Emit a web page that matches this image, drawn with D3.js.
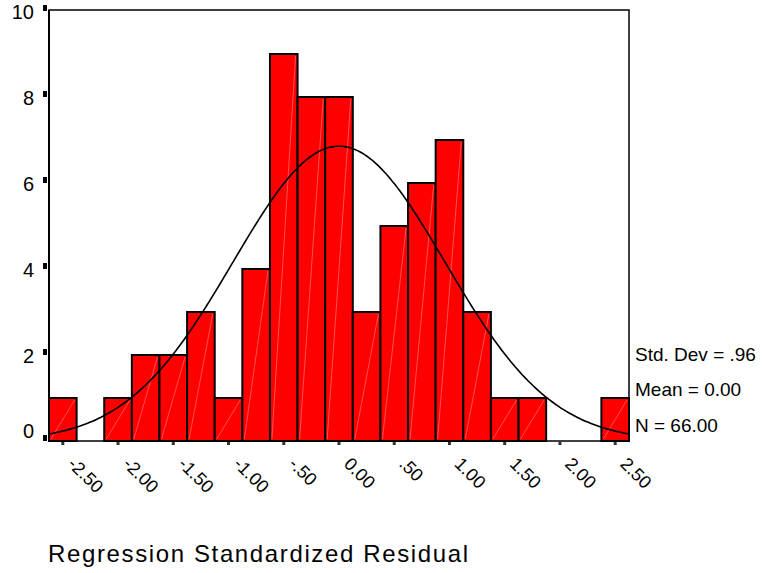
<!DOCTYPE html>
<html><head><meta charset="utf-8">
<script src="https://cdn.jsdelivr.net/npm/d3@7/dist/d3.min.js"></script>
<style>body{margin:0;background:#fff}svg{display:block}text{font-family:"Liberation Sans",Arial,sans-serif;fill:#000}</style>
</head><body>
<svg id="c" width="763" height="573"></svg>
<script>
const binCenters = [-2.5,-2.25,-2.0,-1.75,-1.5,-1.25,-1.0,-0.75,-0.5,-0.25,0.0,0.25,0.5,0.75,1.0,1.25,1.5,1.75,2.0,2.25,2.5];
const counts     = [1,0,1,2,2,3,1,4,9,8,8,3,5,6,7,3,1,1,0,0,1];
const xTicks = [-2.5,-2.0,-1.5,-1.0,-0.5,0.0,0.5,1.0,1.5,2.0,2.5];
const xTickLabels = ["-2.50","-2.00","-1.50","-1.00","-.50","0.00",".50","1.00","1.50","2.00","2.50"];
const yTicks = [0,2,4,6,8,10];
const stats = {sd:0.96, mean:0.00, n:66};
const statLabels = ["Std. Dev = .96","Mean = 0.00","N = 66.00"];
const binWidth = 0.25;
const xTitle = "Regression Standardized Residual";

const svg = d3.select("#c");
const L=49, R=629, T=10, B=441;
const x = d3.scaleLinear().domain([-2.625,2.625]).range([L,R]);
const y = d3.scaleLinear().domain([0,10]).range([B,11]);

// bars
const bars = svg.append("g");
binCenters.forEach((c,i)=>{
  if(counts[i]<=0) return;
  const x0=x(c-binWidth/2), x1=x(c+binWidth/2), yt=y(counts[i]);
  bars.append("rect").attr("x",x0).attr("y",yt).attr("width",x1-x0).attr("height",B-yt)
    .attr("fill","#ff0000").attr("stroke","#000").attr("stroke-width",2);
  bars.append("line").attr("x1",x0+2).attr("y1",B-2).attr("x2",x1-2).attr("y2",yt+2)
    .attr("stroke","#fff").attr("stroke-opacity",0.4).attr("stroke-width",0.8);
});

// normal curve from displayed stats
const peak = stats.n*binWidth/(stats.sd*Math.sqrt(2*Math.PI));
const xs = d3.range(-2.625,2.6251,0.025);
const line = d3.line().x(d=>x(d)).y(d=>y(peak*Math.exp(-0.5*Math.pow((d-stats.mean)/stats.sd,2)))).curve(d3.curveBasis);
svg.append("path").datum(xs).attr("d",line).attr("fill","none").attr("stroke","#000").attr("stroke-width",1.6);

// frame
svg.append("rect").attr("x",L).attr("y",T).attr("width",R-L).attr("height",B-T)
  .attr("fill","none").attr("stroke","#000").attr("stroke-width",1.5);
svg.append("line").attr("x1",L).attr("x2",L).attr("y1",T).attr("y2",B).attr("stroke","#000").attr("stroke-width",2);

// y ticks
yTicks.forEach(v=>{
  const yy=y(v);
  svg.append("rect").attr("x",43).attr("y",yy-6).attr("width",4).attr("height",6).attr("fill","#000");
  svg.append("text").attr("x",34).attr("y",v===0?yy-3:yy+8)
    .attr("text-anchor","end").attr("font-size",20).text(v);
});

// x ticks
xTicks.forEach((v,i)=>{
  const xx=x(v);
  svg.append("rect").attr("x",xx-1.5).attr("y",B+1).attr("width",3).attr("height",3).attr("fill","#333");
  svg.append("text").attr("transform",`translate(${xx+4},${B+24}) rotate(45)`)
    .attr("text-anchor","start").attr("font-size",18).text(xTickLabels[i]);
});

// stats legend
const sy=[361,396,432];
statLabels.forEach((s,i)=>{
  svg.append("text").attr("x",635).attr("y",sy[i]).attr("font-size",19).text(s);
});

// title
svg.append("text").attr("x",48).attr("y",562).attr("font-size",24)
  .attr("textLength",420).attr("lengthAdjust","spacing").text(xTitle);
</script>
</body></html>
